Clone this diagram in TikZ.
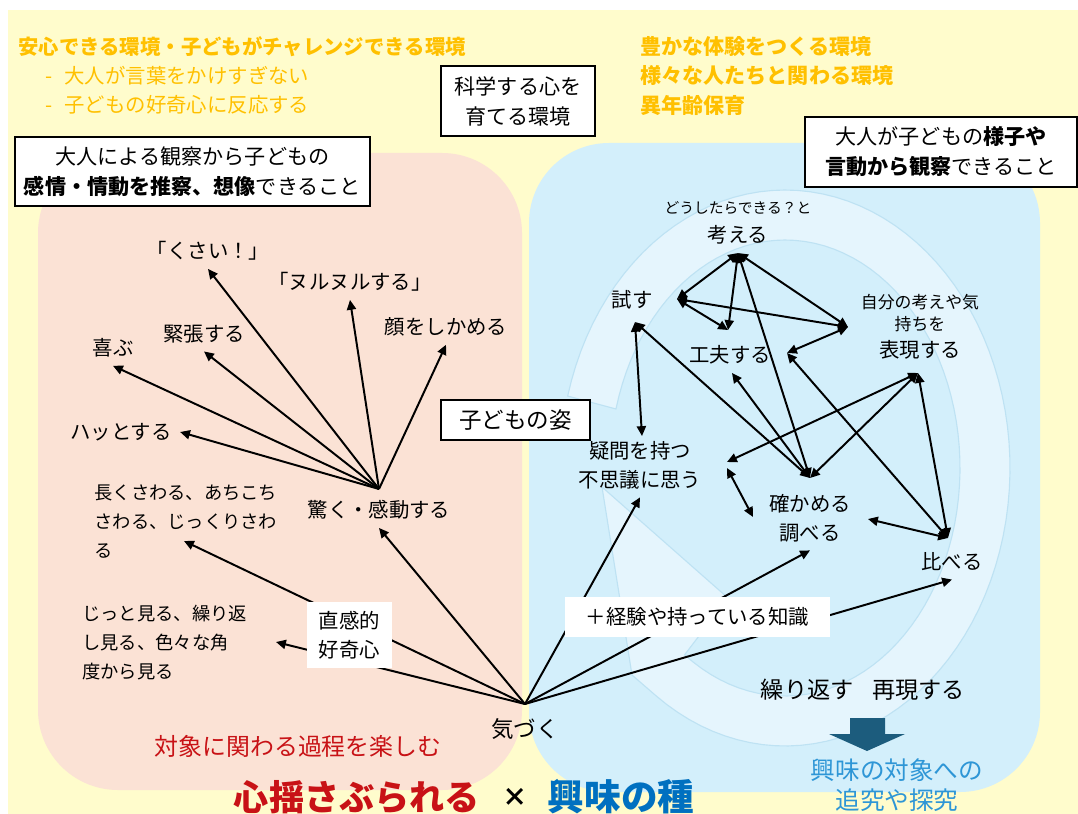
\documentclass[tikz,border=0pt]{standalone}
\usepackage{fontspec}
\setmainfont{Noto Sans CJK JP}
\usetikzlibrary{arrows.meta}
\usetikzlibrary{calc}
\usetikzlibrary{positioning}

\definecolor{bgyellow}{RGB}{255,252,204}
\definecolor{bgpink}{RGB}{251,226,213}
\definecolor{bgblue}{RGB}{211,239,251}
\definecolor{bandblue}{RGB}{229,245,253}
\definecolor{bandline}{RGB}{190,226,243}
\definecolor{envorange}{RGB}{255,192,0}
\definecolor{joyred}{RGB}{200,18,22}
\definecolor{seedblue}{RGB}{0,112,192}
\definecolor{questblue}{RGB}{46,150,214}
\definecolor{darrow}{RGB}{28,92,125}

\begin{document}
\begin{tikzpicture}[x=0.025cm, y=-0.025cm,
		act/.style={inner sep=2pt, outer sep=4pt, align=center, font=\fontsize{14.5pt}{20.6pt}\selectfont},
		actsmall/.style={inner sep=1pt, align=center, font=\fontsize{#1}{15.6pt}\selectfont},
		envline/.style={anchor=west, inner sep=0pt, text=envorange, font=\fontsize{14.5pt}{18pt}\selectfont},
		obsbox/.style={draw, fill=white, line width=0.8pt, inner sep=0pt, align=center, font=\fontsize{15pt}{21.3pt}\selectfont},
		plainbox/.style={fill=white, inner sep=0pt, align=center, font=\fontsize{14.5pt}{20.6pt}\selectfont},
		fan/.style={-{Triangle[length=7pt,width=6.5pt]}, line width=1.4pt},
		link/.style={{Triangle[length=7pt,width=6.5pt]}-{Triangle[length=7pt,width=6.5pt]}, line width=1.4pt}]

		% background areas
		\fill[white] (0,0) rectangle (1078,814);
		\useasboundingbox (0,0) rectangle (1078,814);
		\fill[bgyellow] (8,10) rectangle (1078,814);
		\fill[bgpink, rounded corners=2cm] (38,153) rectangle (522,790);
		\fill[bgblue, rounded corners=2cm] (529,143) rectangle (1040,792);
		\filldraw[fill=bandblue, draw=bandline, line width=0.8pt]
			plot[domain=195:485, samples=90] ({785+225*cos(\x)},{468+278*sin(\x)})
			-- (632,675) -- (602,487) -- (728,598)
			-- plot[domain=485:195, samples=90] ({785+175*cos(\x)},{468+228*sin(\x)}) -- cycle;

		% environments
		\node[envline] (anshin) at (18,47) {\bfseries 安心できる環境・子どもがチャレンジできる環境};
		\node[envline] (kotoba) at (45,76) {-\hspace{0.6em}大人が言葉をかけすぎない};
		\node[envline] (hanno) at (45,105) {-\hspace{0.6em}子どもの好奇心に反応する};
		\node[envline, font=\fontsize{15pt}{18pt}\selectfont] (yutaka) at (640,47) {\bfseries 豊かな体験をつくる環境};
		\node[envline, font=\fontsize{15pt}{18pt}\selectfont] (samazama) at (640,76) {\bfseries 様々な人たちと関わる環境};
		\node[envline, font=\fontsize{15pt}{18pt}\selectfont] (inenrei) at (640,105) {\bfseries 異年齢保育};

		\node[obsbox, minimum width=3.85cm, minimum height=1.75cm] (kagaku) at (518,101) {科学する心を\\育てる環境};
		\node[obsbox, minimum width=8.875cm, minimum height=1.725cm] (suisatsu) at (192.5,171.5) {大人による観察から子どもの\\\textbf{感情・情動を推察、想像}できること};
		\node[obsbox, minimum width=6.8cm, minimum height=1.75cm] (kansatsu) at (941,152) {大人が子どもの\textbf{様子や}\\\textbf{言動から観察}できること};
		\node[obsbox, minimum width=3.725cm, minimum height=1cm, font=\fontsize{16pt}{20pt}\selectfont] (sugata) at (515.5,420) {子どもの姿};

		% left side
		\node[act] (kusai) at (208,251) {「くさい！」};
		\node[act] (nurunuru) at (350,282) {「ヌルヌルする」};
		\node[act] (kao) at (446,327) {顔をしかめる};
		\node[act] (kincho) at (204,334) {緊張する};
		\node[act] (yorokobu) at (113,348) {喜ぶ};
		\node[act] (hatto) at (121,432) {ハッとする};
		\node[act] (odoroku) at (379,510) {驚く・感動する};
		\node[act, anchor=west, align=left, font=\fontsize{13pt}{20.6pt}\selectfont] (nagaku) at (86,522) {長くさわる、あちこち\\さわる、じっくりさわ\\る};
		\node[act, anchor=west, align=left, font=\fontsize{13pt}{20.6pt}\selectfont] (jitto) at (74,643) {じっと見る、繰り返\\し見る、色々な角\\度から見る};
		\node[act, font=\fontsize{16pt}{20pt}\selectfont] (kizuku) at (525,729) {気づく};
		\node[act, text=joyred, font=\fontsize{17pt}{20pt}\selectfont] (tanoshimu) at (298,746) {対象に関わる過程を楽しむ};

		\coordinate (odo-hub) at (379,489);
		\coordinate (kiz-hub) at (525,704);
		\coordinate (nagaku-tip) at (184,541);
		\coordinate (jitto-tip) at (276,642);

		% right side
		\node[actsmall=10.5pt] (dou) at (738,208) {どうしたらできる？と};
		\node[act] (kangaeru) at (738,235) {考える};
		\node[act] (tamesu) at (632,300) {試す};
		\node[act] (kufu) at (730,355) {工夫する};
		\node[actsmall=12pt] (jibun) at (920,313) {自分の考えや気\\持ちを};
		\node[act] (hyogen) at (920,350) {表現する};
		\node[act] (gimon) at (640,465) {疑問を持つ\\不思議に思う};
		\node[act] (tashika) at (810,518) {確かめる\\調べる};
		\node[act] (kuraberu) at (952,562) {比べる};
		\node[act, font=\fontsize{16.5pt}{20pt}\selectfont] (kurikaesu) at (863,690) {繰り返す\hspace{0.8em}再現する};

		\coordinate (kan-s) at (738,253);
		\coordinate (tam-e) at (677,299);
		\coordinate (tam-s) at (635,322);
		\coordinate (hyo-w) at (848,327);
		\coordinate (hyo-s) at (918,373);
		\coordinate (kuf-n) at (728,330);
		\coordinate (kuf-e) at (787,353);
		\coordinate (kuf-s) at (732,373);
		\coordinate (gim-n) at (642,436);
		\coordinate (gim-e) at (727,462);
		\coordinate (gim-e2) at (727,468);
		\coordinate (tas-w) at (753,517);
		\coordinate (tas-n) at (810,478);
		\coordinate (tas-e) at (868,519);
		\coordinate (kur-n) at (948,538);

		% fans
		\foreach \t in {kusai, nurunuru, kao, kincho, yorokobu}
			\draw[fan] (odo-hub) -- (\t.south);
		\draw[fan] (odo-hub) -- (hatto.east);
		\draw[fan] (kiz-hub) -- (odoroku.south);
		\draw[fan] (kiz-hub) -- (nagaku-tip);
		\draw[fan] (kiz-hub) -- (jitto-tip);
		\draw[fan] (kiz-hub) -- (gimon.south);
		\draw[fan] (kiz-hub) -- (tashika.south);
		\draw[fan] (kiz-hub) -- (kuraberu.south);

		% links
		\draw[link] (tam-e) -- (kan-s);
		\draw[link] (kuf-n) -- (kan-s);
		\draw[link] (hyo-w) -- (kan-s);
		\draw[link] (tam-e) -- (kuf-n);
		\draw[link] (tam-e) -- (hyo-w);
		\draw[link] (hyo-w) -- (kuf-e);
		\draw[link] (kan-s) -- (tas-n);
		\draw[link] (tam-s) -- (tas-n);
		\draw[link] (tam-s) -- (gim-n);
		\draw[link] (tas-n) -- (kuf-s);
		\draw[link] (hyo-s) -- (tas-n);
		\draw[link] (hyo-s) -- (gim-e);
		\draw[link] (hyo-s) -- (kur-n);
		\draw[link] (kuf-e) -- (kur-n);
		\draw[link] (kur-n) -- (tas-e);
		\draw[link] (gim-e2) -- (tas-w);

		% boxes over the lines
		\node[plainbox, minimum width=2.125cm, minimum height=1.65cm] (chokkan) at (349.5,635) {直感的\\好奇心};
		\node[plainbox, minimum width=6.625cm, minimum height=1cm] (keiken) at (697.5,617) {＋経験や持っている知識};

		% bottom
		\fill[darrow] (850,718) -- (885,718) -- (885,734) -- (905,734) -- (867,751) -- (829,734) -- (850,734) -- cycle;
		\node[act, text=questblue, font=\fontsize{17.5pt}{21.3pt}\selectfont] (tankyu) at (897,785) {興味の対象への\\追究や探究};
		\node[act, text=joyred, font=\fontsize{25pt}{28pt}\selectfont\bfseries] (yusaburu) at (357,797) {心揺さぶられる};
		\node[act, font=\fontsize{18pt}{20pt}\selectfont\bfseries] (times) at (515,797) {×};
		\node[act, text=seedblue, font=\fontsize{26pt}{28pt}\selectfont\bfseries] (tane) at (621,797) {興味の種};
	\end{tikzpicture}
\end{document}
